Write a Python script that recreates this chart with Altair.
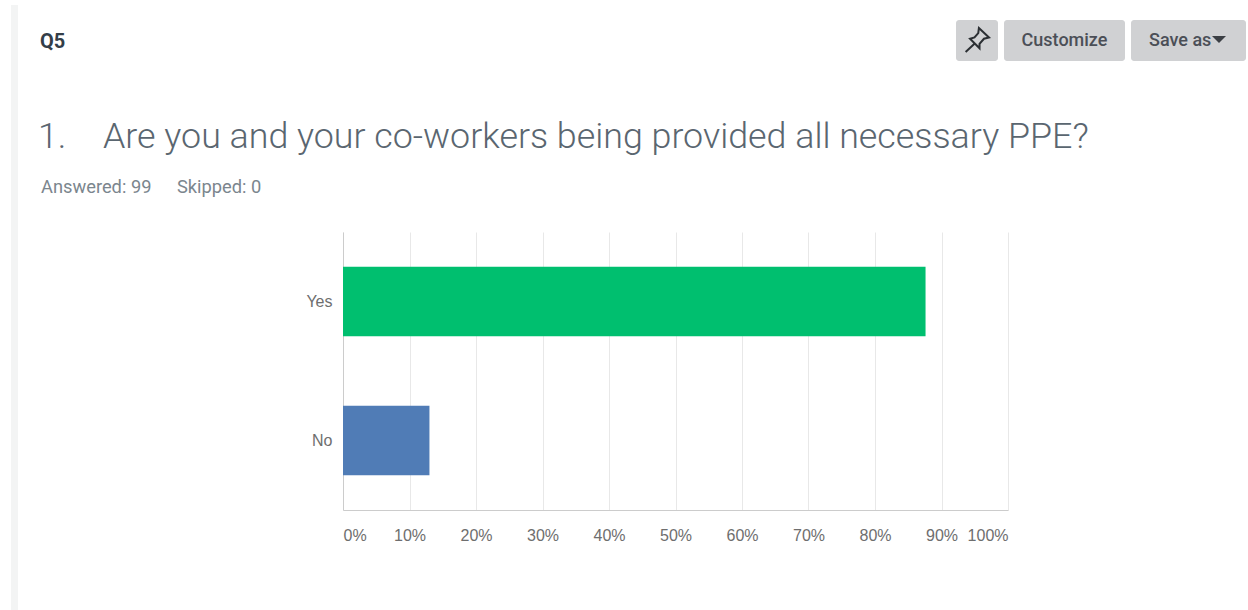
import altair as alt
import pandas as pd

answers = ["Yes", "No"]
shares = [87.6, 13.0]
bar_colors = ["#00BF6F", "#507CB6"]
tick_values = [0, 10, 20, 30, 40, 50, 60, 70, 80, 90, 100]

heading = "Q5"
question_number = "1."
question = "Are you and your co-workers being provided all necessary PPE?"
answered = "Answered: 99"
skipped = "Skipped: 0"

LEFT, TOP, WIDTH, HEIGHT = 343, 232, 665, 278
PAGE_W, PAGE_H = 1248, 610
UI_FONT = "Roboto"
BODY_FONT = "Liberation Sans"
PIN = (
    "M0.15,-0.95 L0.95,-0.2 L0.55,-0.1 L0.2,0.3 L0.2,0.65 L-0.55,-0.1 "
    "L-0.2,-0.2 L0.1,-0.55 Z M-0.2,0.3 L-0.9,0.95"
)
CARET = "M-1,-0.5 L1,-0.5 L0,0.5 Z"


def px(v):
    return alt.value(v - LEFT)


def py(v):
    return alt.value(v - TOP)


def label(text, x, y, size, color, font=UI_FONT, weight="normal", align="left"):
    return alt.Chart(pd.DataFrame({"t": [text]})).mark_text(
        text=text, font=font, fontSize=size, color=color,
        fontWeight=weight, align=align, baseline="middle",
    ).encode(x=px(x), y=py(y))


def panel(x0, x1, y0, y1, color, radius=0):
    return alt.Chart(pd.DataFrame({"t": [0]})).mark_rect(
        color=color, cornerRadius=radius
    ).encode(x=px(x0), x2=px(x1), y=py(y0), y2=py(y1))


data = pd.DataFrame({"answer": answers, "share": shares})

bars = alt.Chart(data).mark_bar().encode(
    x=alt.X(
        "share:Q",
        scale=alt.Scale(domain=[0, 100], nice=False),
        axis=alt.Axis(
            values=tick_values, labelExpr="datum.value + '%'", title=None,
            ticks=False, labelFlush=True, labelFontSize=16, labelFont=BODY_FONT,
            labelColor="#6E6E6E", labelPadding=17, grid=True, gridColor="#E8E8E8",
            domainColor="#CCCCCC", labelOverlap=False,
        ),
    ),
    y=alt.Y(
        "answer:N", sort=answers,
        scale=alt.Scale(paddingInner=0.5, paddingOuter=0.25),
        axis=alt.Axis(
            title=None, ticks=False, labelFontSize=16, labelFont=BODY_FONT,
            labelColor="#6E6E6E", labelPadding=11, grid=False,
            domainColor="#CCCCCC",
        ),
    ),
    color=alt.Color("answer:N", scale=alt.Scale(domain=answers, range=bar_colors), legend=None),
)

# Page furniture around the plot: side strip, toolbar buttons and question text.
furniture = [
    panel(11, 18, 5, PAGE_H, "#F3F4F4"),
    panel(956, 998, 20, 61, "#D0D1D3", 3),
    panel(1004, 1125, 20, 61, "#D0D1D3", 3),
    panel(1131, 1246, 20, 61, "#D0D1D3", 3),
    alt.Chart(pd.DataFrame({"t": [0]})).mark_point(
        shape=PIN, size=640, filled=False, stroke="#2B2F33", strokeWidth=2, opacity=1
    ).encode(x=px(977), y=py(40)),
    alt.Chart(pd.DataFrame({"t": [0]})).mark_point(
        shape=CARET, size=196, filled=True, color="#3B3F44", opacity=1
    ).encode(x=px(1219), y=py(39.5)),
    label("Customize", 1064.5, 40.5, 18, "#4B4F57", weight=500, align="center"),
    label("Save as", 1149, 40.5, 18, "#4B4F57", weight=500),
    label(heading, 40, 42, 20, "#333E48", weight="bold"),
    label(question_number, 38, 136.5, 35.8, "#5A6670", weight=300),
    label(question, 103, 136.5, 35.8, "#5A6670", weight=300),
    label(answered, 41, 188, 18.3, "#7B868E"),
    label(skipped, 177, 188, 18.3, "#7B868E"),
]

chart = alt.layer(bars, *furniture).properties(
    width=WIDTH,
    height=HEIGHT,
    autosize="none",
    padding={
        "left": LEFT,
        "top": TOP,
        "right": PAGE_W - LEFT - WIDTH,
        "bottom": PAGE_H - TOP - HEIGHT,
    },
    background="#FFFFFF",
).configure_view(stroke=None)

chart.save("out.html", embed_options={"renderer": "svg", "actions": False})
